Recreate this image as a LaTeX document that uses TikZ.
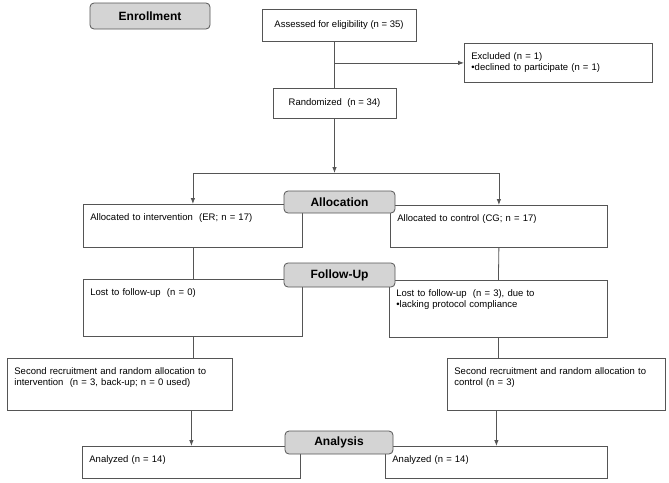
\documentclass[tikz,border=0pt]{standalone}
\usepackage{fontspec}
\setmainfont{Liberation Sans}
\usetikzlibrary{arrows.meta}
\definecolor{linegray}{HTML}{555555}
\definecolor{stagegray}{HTML}{D4D4D4}

\begin{document}
\begin{tikzpicture}[x=1pt,y=-1pt,
    box/.style={draw=linegray, line width=0.8pt, anchor=north west, align=left,
        inner xsep=7pt, inner ysep=0pt, text height=16pt,
        font=\fontsize{9.5}{11}\selectfont},
    cbox/.style={draw=linegray, line width=0.8pt, inner sep=0pt,
        font=\fontsize{9.5}{11}\selectfont},
    stage/.style={draw=linegray, line width=0.8pt, fill=stagegray, rounded corners=4pt,
        inner sep=0pt, font=\fontsize{12}{14}\selectfont\bfseries},
    link/.style={draw=linegray, line width=0.8pt},
    arr/.style={link, -{Latex[length=6pt,width=4.5pt]}}]
    \useasboundingbox (0,0) rectangle (669,482);

    % enrollment
    \node[cbox, minimum width=154pt, minimum height=32pt] (assess) at (339,25) {Assessed for eligibility (n = 35)};
    \node[box, text width=174pt, text depth=23pt] (excl) at (464,43) {Excluded (n = 1)\\•declined to participate (n = 1)};
    \node[cbox, minimum width=123pt, minimum height=30pt] (rand) at (334.5,103) {Randomized~ (n = 34)};
    \coordinate (split) at (334.5,173);

    % allocation
    \node[box, text width=205pt, text depth=27pt] (intv) at (83,204) {Allocated to intervention~ (ER; n = 17)};
    \node[box, text width=203pt, text depth=26pt] (ctrl) at (390,205) {Allocated to control (CG; n = 17)};

    % follow-up
    \node[box, text width=205pt, text depth=41pt] (lostL) at (83,279) {Lost to follow-up~ (n = 0)};
    \node[box, text width=204pt, text depth=41pt] (lostR) at (389,280) {Lost to follow-up~ (n = 3), due to\\•lacking protocol compliance};
    \node[box, text width=211pt, text depth=36pt] (secL) at (7,358) {Second recruitment and random allocation to\\intervention~ (n = 3, back-up; n = 0 used)};
    \node[box, text width=204pt, text depth=36pt] (secR) at (447,358) {Second recruitment and random allocation to\\control (n = 3)};

    % analysis
    \node[box, text width=204pt, text depth=16pt] (anaL) at (82,446) {Analyzed (n = 14)};
    \node[box, text width=208pt, text depth=16pt] (anaR) at (385,446) {Analyzed (n = 14)};

    % connectors
    \draw[link] (assess.south -| rand.north) -- (rand.north);
    \draw[arr] (rand.north |- excl.west) -- (excl.west);
    \draw[arr] (rand.south) -- (split);
    \draw[link] (split -| intv.north) -- (split -| ctrl.north);
    \draw[arr] (split -| intv.north) -- (intv.north);
    \draw[arr] (split -| ctrl.north) -- (ctrl.north);
    \draw[link] (intv.south) -- (lostL.north);
    \draw[link] (ctrl.south) -- (lostR.north);
    \draw[link] (lostL.south) -- (lostL.south |- secL.north);
    \draw[link] (lostR.south) -- (lostR.south |- secR.north);
    \draw[arr] (anaL.north |- secL.south) -- (anaL.north);
    \draw[arr] (anaR.north |- secR.south) -- (anaR.north);

    % stage labels
    \node[stage, minimum width=120pt, minimum height=26pt] (enroll) at (150,16) {Enrollment};
    \node[stage, minimum width=111pt, minimum height=22pt] (allocl) at (339.5,202) {Allocation};
    \node[stage, minimum width=111pt, minimum height=24pt] (follow) at (339.5,275) {Follow-Up};
    \node[stage, minimum width=108pt, minimum height=23pt] (analysis) at (339,442.5) {Analysis};
\end{tikzpicture}
\end{document}
